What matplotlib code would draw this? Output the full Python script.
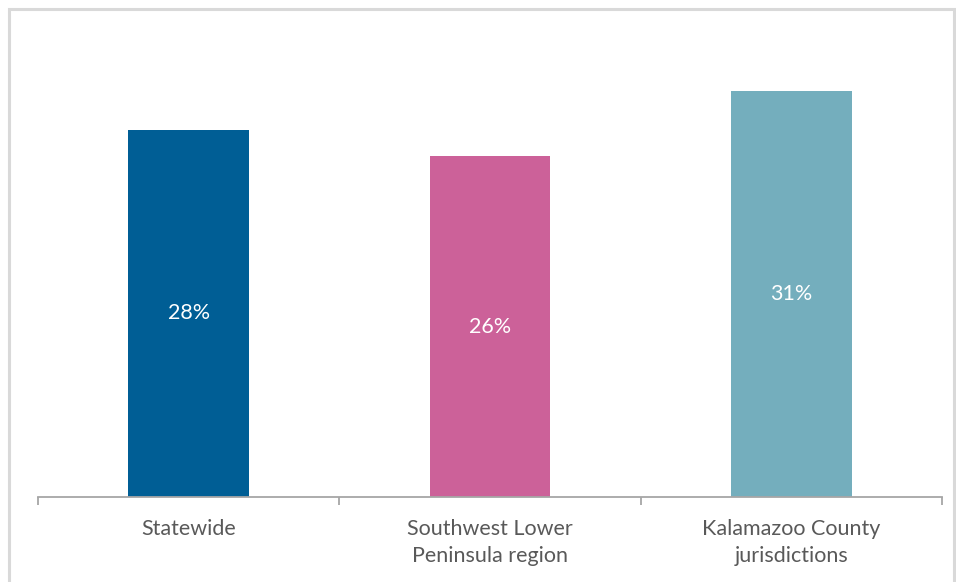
import matplotlib.pyplot as plt
from matplotlib.patches import Rectangle

categories = ["Statewide", "Southwest Lower\nPeninsula region", "Kalamazoo County\njurisdictions"]
values = [28, 26, 31]
colors = ["#005E95", "#CC6199", "#74AEBD"]

plt.rcParams['font.family'] = ['Lato', 'DejaVu Sans']

fig = plt.figure(figsize=(9.56, 5.82), dpi=100)
# light grey frame round the chart
fig.patches.append(Rectangle((9 / 956, -0.05), 945 / 956, 1.05 - 9 / 582,
                             transform=fig.transFigure, fill=False,
                             edgecolor="#D9D9D9", linewidth=2.2))

ax = fig.add_axes([38 / 956, 85 / 582, 904 / 956, 472 / 582])
x = list(range(len(categories)))
bars = ax.bar(x, values, width=0.4, color=colors)

for xi, v in zip(x, values):
    ax.text(xi, v / 2, f"{v}%", ha="center", va="center", color="white", fontsize=15.5)

ax.set_xlim(-0.5, 2.5)
ax.set_ylim(0, 36)
ax.set_yticks([])
for s in ["top", "right", "left"]:
    ax.spines[s].set_visible(False)
ax.spines["bottom"].set_color("#A6A6A6")
ax.spines["bottom"].set_linewidth(1.3)

ax.set_xticks([-0.5, 0.5, 1.5, 2.5])
ax.set_xticklabels([])
ax.tick_params(axis="x", which="major", length=6, width=1.3, color="#A6A6A6")
ax.set_xticks(x, minor=True)
ax.set_xticklabels(categories, minor=True, fontsize=15.5, color="#595959", linespacing=1.45)
ax.tick_params(axis="x", which="minor", length=0, pad=16)

fig.savefig("out.png", dpi=100)
